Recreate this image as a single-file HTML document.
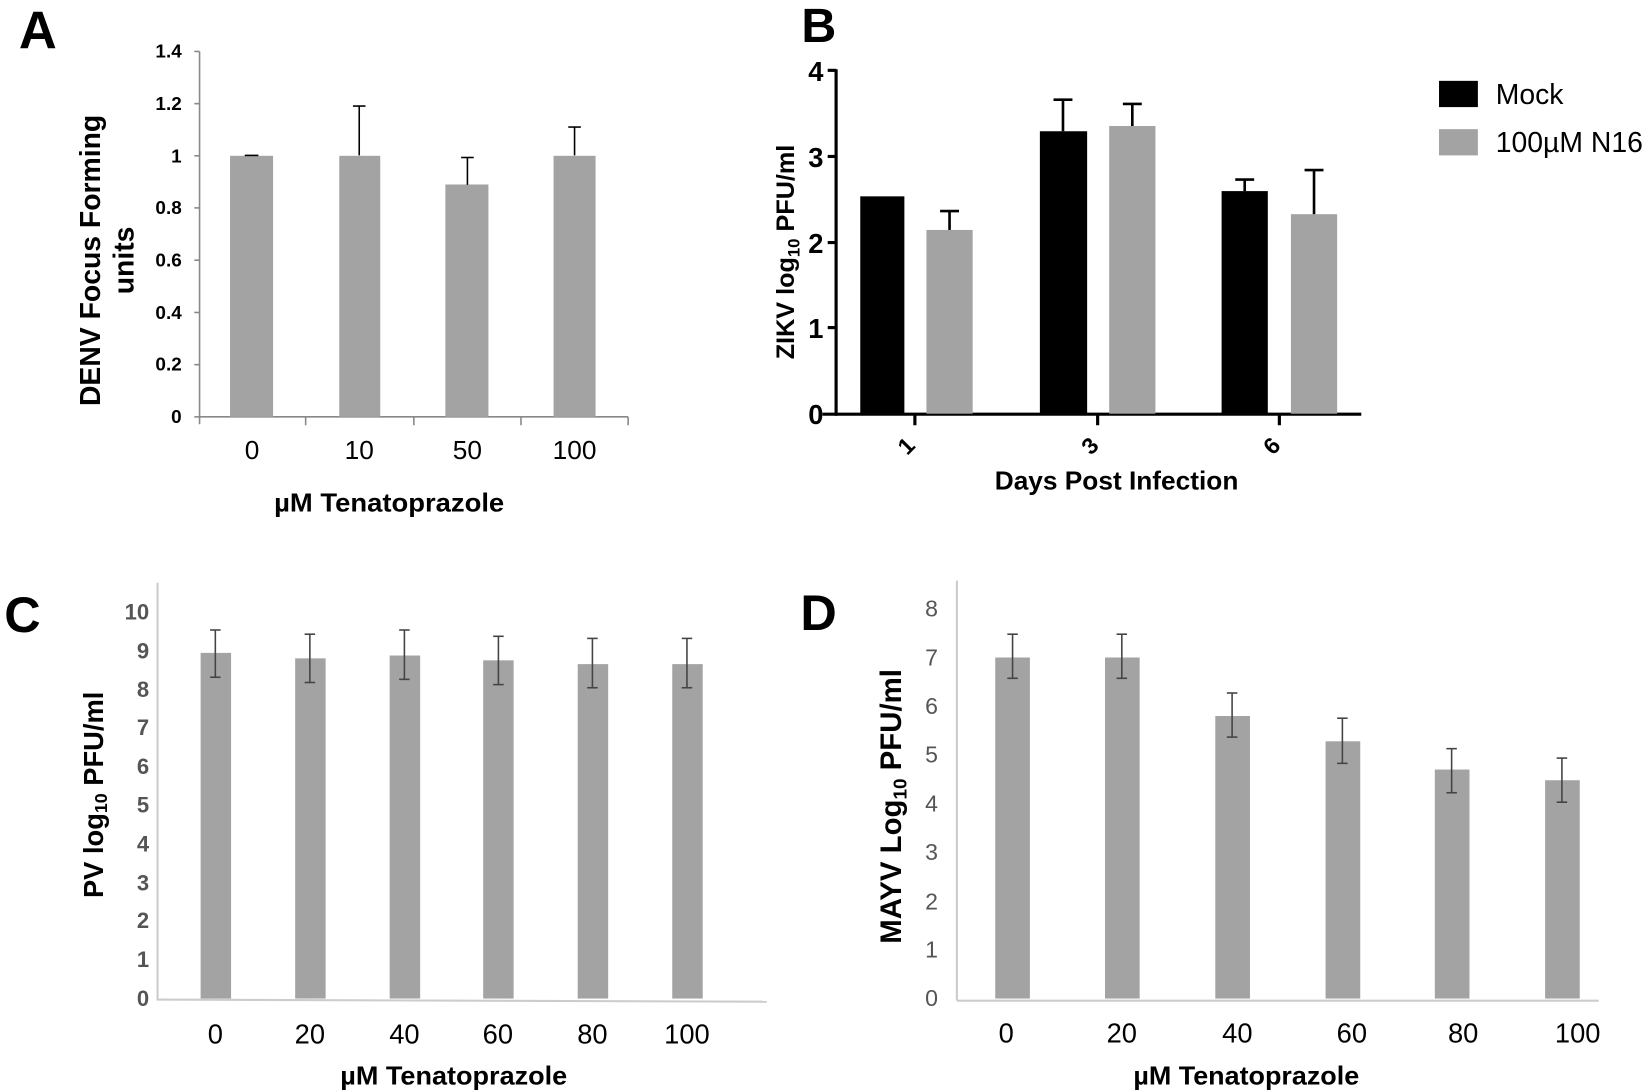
<!DOCTYPE html>
<html><head><meta charset="utf-8"><style>
html,body{margin:0;padding:0;background:#fff;}
svg{display:block;}
.n{font-family:"Liberation Sans Narrow","Liberation Sans",sans-serif;}
.b{font-family:"Liberation Sans",sans-serif;font-weight:bold;}
</style></head><body>
<svg width="1647" height="1092" viewBox="0 0 1568 1040" preserveAspectRatio="none" xmlns="http://www.w3.org/2000/svg">
<rect width="1568" height="1040" fill="#fff"/>
<text x="18" y="46" class="b" font-size="50" fill="#000">A</text>
<text x="763" y="40" class="b" font-size="46" fill="#000">B</text>
<text x="4" y="602" class="b" font-size="48" fill="#000">C</text>
<text x="762" y="600" class="b" font-size="48" fill="#000">D</text>

<!-- Panel A -->
<g>
<line x1="190" y1="49" x2="190" y2="404" stroke="#888" stroke-width="1.5"/>
<line x1="190" y1="397" x2="598" y2="397" stroke="#888" stroke-width="1.5"/>
<g stroke="#888" stroke-width="1.5">
<line x1="185" y1="49" x2="190" y2="49"/><line x1="185" y1="98.7" x2="190" y2="98.7"/><line x1="185" y1="148.4" x2="190" y2="148.4"/><line x1="185" y1="198" x2="190" y2="198"/><line x1="185" y1="247.8" x2="190" y2="247.8"/><line x1="185" y1="297.6" x2="190" y2="297.6"/><line x1="185" y1="347.3" x2="190" y2="347.3"/><line x1="185" y1="397" x2="190" y2="397"/>
<line x1="291" y1="397" x2="291" y2="405"/><line x1="394" y1="397" x2="394" y2="405"/><line x1="496" y1="397" x2="496" y2="405"/><line x1="598" y1="397" x2="598" y2="405"/>
</g>
<g class="n" font-weight="bold" font-size="18" fill="#000" text-anchor="end">
<text x="173" y="55">1.4</text><text x="173" y="105">1.2</text><text x="173" y="155">1</text><text x="173" y="204">0.8</text><text x="173" y="254">0.6</text><text x="173" y="304">0.4</text><text x="173" y="353">0.2</text><text x="173" y="403">0</text>
</g>
<g fill="#a3a3a3">
<rect x="219" y="148.4" width="41" height="248.6"/>
<rect x="323" y="148.4" width="39" height="248.6"/>
<rect x="424" y="175.7" width="41" height="221.3"/>
<rect x="527" y="148.4" width="40" height="248.6"/>
</g>
<g stroke="#000" stroke-width="1.5">
<line x1="233" y1="148" x2="246" y2="148"/>
<line x1="342" y1="148" x2="342" y2="101"/><line x1="336" y1="101" x2="348" y2="101"/>
<line x1="445" y1="176" x2="445" y2="150"/><line x1="439" y1="150" x2="451" y2="150"/>
<line x1="547" y1="148" x2="547" y2="121"/><line x1="541" y1="121" x2="553" y2="121"/>
</g>
<g class="n" font-size="25" fill="#000" text-anchor="middle">
<text x="240" y="437">0</text><text x="342" y="437">10</text><text x="445" y="437">50</text><text x="547" y="437">100</text>
</g>
<text x="261" y="487" class="n" font-weight="bold" font-size="25" textLength="219" lengthAdjust="spacingAndGlyphs">µM Tenatoprazole</text>
<text transform="translate(95,248) rotate(-90)" class="b" font-size="27" text-anchor="middle">DENV Focus Forming</text>
<text transform="translate(127,248) rotate(-90)" class="b" font-size="27" text-anchor="middle">units</text>
</g>

<!-- Panel B -->
<g>
<line x1="796" y1="66" x2="796" y2="396" stroke="#000" stroke-width="3"/>
<line x1="783" y1="394.5" x2="1296" y2="394.5" stroke="#000" stroke-width="3"/>
<g stroke="#000" stroke-width="3">
<line x1="788" y1="67" x2="796" y2="67"/><line x1="788" y1="149" x2="796" y2="149"/><line x1="788" y1="231" x2="796" y2="231"/><line x1="788" y1="312" x2="796" y2="312"/>
<line x1="871" y1="394" x2="871" y2="405"/><line x1="1045" y1="394" x2="1045" y2="405"/><line x1="1218" y1="394" x2="1218" y2="405"/>
</g>
<g class="n" font-weight="bold" font-size="26" fill="#000" text-anchor="end">
<text x="784" y="77">4</text><text x="784" y="159">3</text><text x="784" y="241">2</text><text x="784" y="322">1</text><text x="784" y="404">0</text>
</g>
<rect x="819" y="187" width="42" height="207" fill="#000"/>
<rect x="882" y="219" width="44" height="175" fill="#a3a3a3"/>
<rect x="990" y="125" width="45" height="269" fill="#000"/>
<rect x="1056" y="120" width="44" height="274" fill="#a3a3a3"/>
<rect x="1163" y="182" width="44" height="212" fill="#000"/>
<rect x="1229" y="204" width="44" height="190" fill="#a3a3a3"/>
<g stroke="#000" stroke-width="2.5">
<line x1="904" y1="219" x2="904" y2="201"/><line x1="895" y1="201" x2="913" y2="201"/>
<line x1="1012" y1="125" x2="1012" y2="95"/><line x1="1003" y1="95" x2="1021" y2="95"/>
<line x1="1078" y1="120" x2="1078" y2="99"/><line x1="1069" y1="99" x2="1087" y2="99"/>
<line x1="1185" y1="182" x2="1185" y2="171"/><line x1="1176" y1="171" x2="1194" y2="171"/>
<line x1="1251" y1="204" x2="1251" y2="162"/><line x1="1242" y1="162" x2="1260" y2="162"/>
</g>
<g class="n" font-weight="bold" font-size="22" fill="#000" text-anchor="middle">
<text transform="translate(868,430) rotate(-45)">1</text>
<text transform="translate(1043,430) rotate(-45)">3</text>
<text transform="translate(1216,430) rotate(-45)">6</text>
</g>
<text x="1063" y="466" class="n" font-weight="bold" font-size="25" text-anchor="middle">Days Post Infection</text>
<text transform="translate(756,240) rotate(-90)" class="b" font-size="24" text-anchor="middle">ZIKV log<tspan font-size="16" dy="5">10</tspan><tspan dy="-5"> PFU/ml</tspan></text>
<rect x="1370" y="77" width="37" height="25" fill="#000"/>
<rect x="1370" y="123" width="37" height="25" fill="#a3a3a3"/>
<text x="1424" y="99" class="n" font-size="27" fill="#000">Mock</text>
<text x="1424" y="145" class="n" font-size="27" fill="#000">100µM N16</text>
</g>

<!-- Panel C -->
<g>
<line x1="150" y1="555" x2="150" y2="953" stroke="#ccc" stroke-width="2"/>
<line x1="150" y1="952" x2="730" y2="954" stroke="#ccc" stroke-width="2"/>
<g class="b" font-size="21" fill="#555" text-anchor="end">
<text x="142" y="590">10</text><text x="142" y="627">9</text><text x="142" y="664">8</text><text x="142" y="700">7</text><text x="142" y="737">6</text><text x="142" y="774">5</text><text x="142" y="811">4</text><text x="142" y="848">3</text><text x="142" y="884">2</text><text x="142" y="921">1</text><text x="142" y="958">0</text>
</g>
<g fill="#a3a3a3">
<rect x="191" y="621.8" width="29" height="329.2"/>
<rect x="281" y="627" width="29" height="324"/>
<rect x="371" y="624.3" width="29" height="326.7"/>
<rect x="460" y="628.9" width="29" height="322.1"/>
<rect x="550" y="632.5" width="29" height="318.5"/>
<rect x="640" y="632.5" width="29" height="318.5"/>
</g>
<g stroke="#444" stroke-width="1.5">
<line x1="205" y1="600" x2="205" y2="645"/><line x1="200" y1="600" x2="210" y2="600"/><line x1="200" y1="645" x2="210" y2="645"/>
<line x1="295" y1="604" x2="295" y2="650"/><line x1="290" y1="604" x2="300" y2="604"/><line x1="290" y1="650" x2="300" y2="650"/>
<line x1="385" y1="600" x2="385" y2="647"/><line x1="380" y1="600" x2="390" y2="600"/><line x1="380" y1="647" x2="390" y2="647"/>
<line x1="474.5" y1="606" x2="474.5" y2="652"/><line x1="469.5" y1="606" x2="479.5" y2="606"/><line x1="469.5" y1="652" x2="479.5" y2="652"/>
<line x1="564" y1="608" x2="564" y2="655"/><line x1="559" y1="608" x2="569" y2="608"/><line x1="559" y1="655" x2="569" y2="655"/>
<line x1="654" y1="608" x2="654" y2="655"/><line x1="649" y1="608" x2="659" y2="608"/><line x1="649" y1="655" x2="659" y2="655"/>
</g>
<g class="n" font-size="26" fill="#000" text-anchor="middle">
<text x="205" y="994">0</text><text x="295" y="994">20</text><text x="385" y="994">40</text><text x="474" y="994">60</text><text x="564" y="994">80</text><text x="654" y="994">100</text>
</g>
<text x="324" y="1033" class="n" font-weight="bold" font-size="25" textLength="216" lengthAdjust="spacingAndGlyphs">µM Tenatoprazole</text>
<text transform="translate(98,757) rotate(-90)" class="b" font-size="26" text-anchor="middle">PV log<tspan font-size="17" dy="4">10</tspan><tspan dy="-4"> PFU/ml</tspan></text>
</g>

<!-- Panel D -->
<g>
<line x1="911" y1="553" x2="911" y2="953" stroke="#ccc" stroke-width="2"/>
<line x1="911" y1="953" x2="1522" y2="953" stroke="#ccc" stroke-width="2"/>
<g class="n" font-size="22" fill="#555" text-anchor="end">
<text x="893" y="587">8</text><text x="893" y="634">7</text><text x="893" y="680">6</text><text x="893" y="726">5</text><text x="893" y="773">4</text><text x="893" y="819">3</text><text x="893" y="866">2</text><text x="893" y="912">1</text><text x="893" y="958">0</text>
</g>
<g fill="#a3a3a3">
<rect x="947.5" y="626.2" width="33" height="324.8"/>
<rect x="1052" y="626.2" width="33" height="324.8"/>
<rect x="1157" y="681.9" width="33" height="269.1"/>
<rect x="1262" y="706" width="33" height="245"/>
<rect x="1366" y="732.9" width="33" height="218.1"/>
<rect x="1471" y="743.1" width="33" height="207.9"/>
</g>
<g stroke="#444" stroke-width="1.5">
<line x1="964" y1="604" x2="964" y2="646"/><line x1="959" y1="604" x2="969" y2="604"/><line x1="959" y1="646" x2="969" y2="646"/>
<line x1="1068" y1="604" x2="1068" y2="646"/><line x1="1063" y1="604" x2="1073" y2="604"/><line x1="1063" y1="646" x2="1073" y2="646"/>
<line x1="1173" y1="660" x2="1173" y2="702"/><line x1="1168" y1="660" x2="1178" y2="660"/><line x1="1168" y1="702" x2="1178" y2="702"/>
<line x1="1278" y1="684" x2="1278" y2="727"/><line x1="1273" y1="684" x2="1283" y2="684"/><line x1="1273" y1="727" x2="1283" y2="727"/>
<line x1="1382" y1="713" x2="1382" y2="755"/><line x1="1377" y1="713" x2="1387" y2="713"/><line x1="1377" y1="755" x2="1387" y2="755"/>
<line x1="1487" y1="722" x2="1487" y2="764"/><line x1="1482" y1="722" x2="1492" y2="722"/><line x1="1482" y1="764" x2="1492" y2="764"/>
</g>
<g class="n" font-size="26" fill="#000" text-anchor="middle">
<text x="958" y="993">0</text><text x="1068" y="993">20</text><text x="1178" y="993">40</text><text x="1287" y="993">60</text><text x="1393" y="993">80</text><text x="1502" y="993">100</text>
</g>
<text x="1079" y="1033" class="n" font-weight="bold" font-size="25" textLength="215" lengthAdjust="spacingAndGlyphs">µM Tenatoprazole</text>
<text transform="translate(858,768) rotate(-90)" class="b" font-size="28" text-anchor="middle">MAYV Log<tspan font-size="18" dy="5">10</tspan><tspan dy="-5"> PFU/ml</tspan></text>
</g>
</svg>
</body></html>
